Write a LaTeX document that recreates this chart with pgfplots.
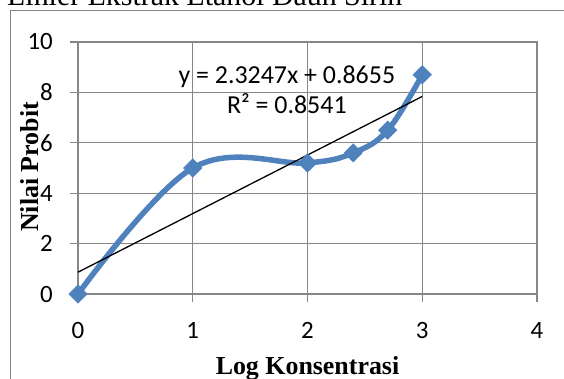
\documentclass[border=0pt]{standalone}
\usepackage{fontspec}
\setmainfont{Carlito}
\newfontfamily\timesfont{Liberation Serif}
\usepackage{pgfplots}
\pgfplotsset{compat=1.18}
\definecolor{excelblue}{RGB}{79,129,189}
\definecolor{gridgray}{RGB}{134,134,134}
\begin{document}
\begin{tikzpicture}[x=1bp,y=1bp]
\path[use as bounding box] (0,0) rectangle (564,378);
\clip (0,0) rectangle (564,378);
\draw[gridgray, line width=1bp] (10,-20) rectangle (600,367);
\node[anchor=base west, inner sep=0pt, font=\timesfont\fontsize{30}{36}\selectfont] at (7,373) {Linier Ekstrak Etanol Daun Sirih};
\begin{axis}[
  at={(78bp,84bp)}, anchor=south west,
  scale only axis, width=459bp, height=252bp,
  xmin=0, xmax=4, ymin=0, ymax=10,
  xtick={0,1,2,3,4}, ytick={0,2,4,6,8,10},
  grid=major, major grid style={gridgray, line width=1.2bp},
  axis line style={gridgray, line width=1.2bp},
  tick style={gridgray, line width=1.2bp},
  tick align=outside, major tick length=8bp, tick pos=left,
  ticklabel style={font=\fontsize{25}{30}\selectfont, inner sep=0pt},
  yticklabel style={anchor=east, xshift=-17bp},
  xticklabel style={anchor=north, yshift=-20bp},
  /pgf/number format/assume math mode=true,
  clip=false,
  xlabel={Log Konsentrasi}, ylabel={Nilai Probit},
  label style={font=\timesfont\bfseries\fontsize{26}{31}\selectfont, inner sep=0pt},
  xlabel style={at={(rel axis cs:0.5,-0.3214)}, anchor=base},
  ylabel style={at={(rel axis cs:-0.1046,0.504)}, anchor=center},
]
\addplot[excelblue, line width=5.5bp, smooth, tension=0.62, mark=square*, mark size=6.5bp,
  mark options={solid, rotate=45, line width=0.5bp, fill=excelblue, draw=excelblue}]
  coordinates {(0,0) (1,5) (2,5.2) (2.398,5.6) (2.699,6.5) (3,8.7)};
\addplot[black, line width=1.3bp] coordinates {(0,0.8655) (3,7.8396)};
\node[font=\fontsize{26}{30}\selectfont, align=center, inner sep=0pt] at (axis cs:1.82,8.1) {y = 2.3247x + 0.8655\\R² = 0.8541};
\end{axis}
\end{tikzpicture}
\end{document}
